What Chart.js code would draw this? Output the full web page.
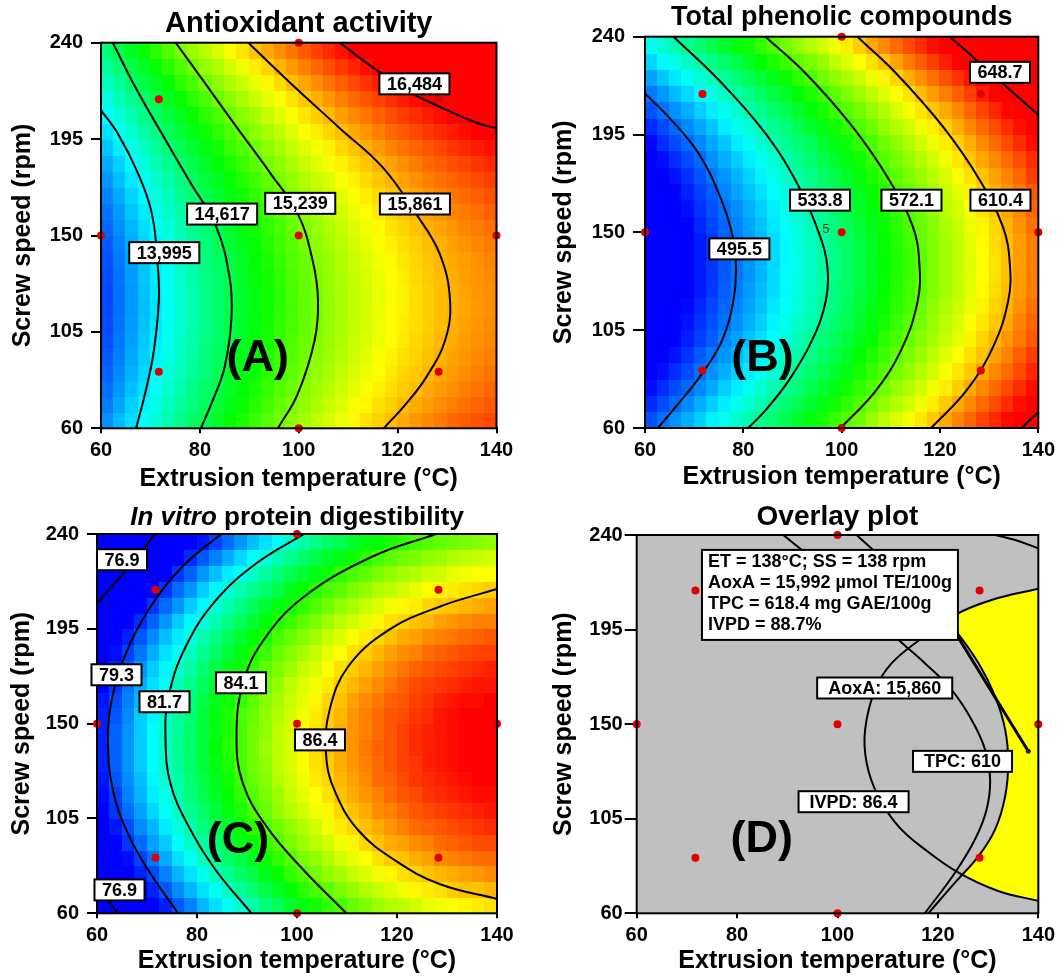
<!DOCTYPE html>
<html>
<head>
<meta charset="utf-8">
<script src="https://cdn.jsdelivr.net/npm/chart.js@4.4.1/dist/chart.umd.min.js"></script>
<style>
  html, body { margin: 0; padding: 0; background: #fff; }
  #page { position: relative; width: 1060px; height: 977px; overflow: hidden; }
  .panel { position: absolute; }
  canvas { display: block; }
</style>
</head>
<body>
<div id="page">
  <div class="panel" style="left:0;top:0"><canvas id="chartA" width="530" height="495"></canvas></div>
  <div class="panel" style="left:530px;top:0"><canvas id="chartB" width="530" height="495"></canvas></div>
  <div class="panel" style="left:0;top:490px"><canvas id="chartC" width="530" height="487"></canvas></div>
  <div class="panel" style="left:530px;top:490px"><canvas id="chartD" width="530" height="487"></canvas></div>
</div>
<script>
// axes
const TEMP_TICKS = [60, 80, 100, 120, 140];
const SPEED_TICKS = [60, 105, 150, 195, 240];

// rotatable CCD design points (red dots)
const DESIGN_TEMP = [60, 71.7, 71.7, 100, 100, 100, 128.3, 128.3, 140];
const DESIGN_SPEED = [150, 86.4, 213.6, 60, 150, 240, 86.4, 213.6, 150];

// response surface cells (centres); rows go from 63.75 rpm up to 236.25 rpm
const CELL_TEMP = [61.25, 63.75, 66.25, 68.75, 71.25, 73.75, 76.25, 78.75, 81.25, 83.75, 86.25, 88.75, 91.25, 93.75, 96.25, 98.75,
  101.25, 103.75, 106.25, 108.75, 111.25, 113.75, 116.25, 118.75, 121.25, 123.75, 126.25, 128.75, 131.25, 133.75, 136.25, 138.75];
const CELL_SPEED = [63.75, 71.25, 78.75, 86.25, 93.75, 101.25, 108.75, 116.25, 123.75, 131.25, 138.75, 146.25,
  153.75, 161.25, 168.75, 176.25, 183.75, 191.25, 198.75, 206.25, 213.75, 221.25, 228.75, 236.25];

// Antioxidant activity (umol TE/100g)
const AOXA_GRID = [
  [13680, 13810, 13930, 14060, 14180, 14300, 14410, 14520, 14630, 14730, 14840, 14930, 15030, 15120, 15210, 15300, 15380, 15460, 15540, 15610, 15680, 15750, 15810, 15880, 15930, 15990, 16040, 16090, 16140, 16180, 16220, 16250],
  [13620, 13750, 13880, 14000, 14120, 14240, 14350, 14460, 14570, 14680, 14780, 14880, 14970, 15070, 15160, 15240, 15320, 15400, 15480, 15560, 15630, 15690, 15760, 15820, 15880, 15930, 15980, 16030, 16080, 16120, 16160, 16200],
  [13570, 13700, 13830, 13950, 14070, 14190, 14300, 14420, 14520, 14630, 14730, 14830, 14920, 15020, 15110, 15190, 15280, 15360, 15430, 15510, 15580, 15640, 15710, 15770, 15830, 15880, 15940, 15980, 16030, 16070, 16110, 16150],
  [13530, 13660, 13790, 13910, 14030, 14150, 14260, 14370, 14480, 14590, 14690, 14790, 14880, 14980, 15070, 15150, 15240, 15320, 15390, 15470, 15540, 15600, 15670, 15730, 15790, 15840, 15890, 15940, 15990, 16030, 16070, 16110],
  [13500, 13630, 13760, 13880, 14000, 14120, 14230, 14340, 14450, 14560, 14660, 14760, 14850, 14940, 15030, 15120, 15200, 15280, 15360, 15430, 15500, 15570, 15640, 15700, 15760, 15810, 15860, 15910, 15960, 16000, 16040, 16080],
  [13470, 13600, 13730, 13860, 13980, 14090, 14210, 14320, 14430, 14530, 14630, 14730, 14830, 14920, 15010, 15100, 15180, 15260, 15340, 15410, 15480, 15550, 15610, 15670, 15730, 15790, 15840, 15890, 15930, 15980, 16020, 16050],
  [13460, 13590, 13720, 13840, 13960, 14080, 14190, 14300, 14410, 14520, 14620, 14720, 14810, 14910, 15000, 15080, 15160, 15240, 15320, 15400, 15470, 15530, 15600, 15660, 15720, 15770, 15820, 15870, 15920, 15960, 16000, 16040],
  [13450, 13580, 13710, 13830, 13950, 14070, 14190, 14300, 14410, 14510, 14610, 14710, 14810, 14900, 14990, 15070, 15160, 15240, 15310, 15390, 15460, 15530, 15590, 15650, 15710, 15770, 15820, 15870, 15910, 15950, 15990, 16030],
  [13450, 13580, 13710, 13840, 13960, 14070, 14190, 14300, 14410, 14510, 14610, 14710, 14810, 14900, 14990, 15080, 15160, 15240, 15320, 15390, 15460, 15530, 15590, 15650, 15710, 15770, 15820, 15870, 15910, 15960, 16000, 16030],
  [13460, 13590, 13720, 13850, 13970, 14080, 14200, 14310, 14420, 14520, 14620, 14720, 14820, 14910, 15000, 15090, 15170, 15250, 15330, 15400, 15470, 15540, 15600, 15660, 15720, 15780, 15830, 15880, 15920, 15970, 16010, 16040],
  [13480, 13610, 13740, 13860, 13980, 14100, 14220, 14330, 14440, 14540, 14640, 14740, 14840, 14930, 15020, 15110, 15190, 15270, 15350, 15420, 15490, 15560, 15620, 15680, 15740, 15800, 15850, 15900, 15940, 15980, 16020, 16060],
  [13510, 13640, 13770, 13890, 14010, 14130, 14240, 14350, 14460, 14570, 14670, 14770, 14860, 14960, 15050, 15130, 15220, 15300, 15370, 15450, 15520, 15580, 15650, 15710, 15770, 15820, 15870, 15920, 15970, 16010, 16050, 16090],
  [13550, 13680, 13800, 13930, 14050, 14160, 14280, 14390, 14500, 14600, 14710, 14800, 14900, 14990, 15080, 15170, 15250, 15330, 15410, 15480, 15550, 15620, 15680, 15750, 15800, 15860, 15910, 15960, 16000, 16050, 16090, 16120],
  [13590, 13720, 13850, 13970, 14090, 14210, 14320, 14430, 14540, 14650, 14750, 14850, 14940, 15040, 15130, 15210, 15290, 15370, 15450, 15530, 15600, 15660, 15730, 15790, 15850, 15900, 15950, 16000, 16050, 16090, 16130, 16170],
  [13640, 13770, 13900, 14020, 14140, 14260, 14380, 14490, 14590, 14700, 14800, 14900, 15000, 15090, 15180, 15260, 15350, 15430, 15500, 15580, 15650, 15720, 15780, 15840, 15900, 15950, 16010, 16060, 16100, 16140, 16180, 16220],
  [13700, 13830, 13960, 14080, 14200, 14320, 14440, 14550, 14660, 14760, 14860, 14960, 15060, 15150, 15240, 15320, 15410, 15490, 15560, 15640, 15710, 15780, 15840, 15900, 15960, 16020, 16070, 16120, 16160, 16200, 16240, 16280],
  [13770, 13900, 14030, 14150, 14270, 14390, 14510, 14620, 14720, 14830, 14930, 15030, 15130, 15220, 15310, 15390, 15480, 15560, 15630, 15710, 15780, 15850, 15910, 15970, 16030, 16080, 16140, 16190, 16230, 16270, 16310, 16350],
  [13850, 13980, 14110, 14230, 14350, 14470, 14580, 14690, 14800, 14910, 15010, 15110, 15200, 15300, 15390, 15470, 15550, 15630, 15710, 15790, 15860, 15920, 15990, 16050, 16110, 16160, 16210, 16260, 16310, 16350, 16390, 16430],
  [13940, 14070, 14190, 14320, 14440, 14550, 14670, 14780, 14890, 14990, 15100, 15190, 15290, 15380, 15470, 15560, 15640, 15720, 15800, 15870, 15940, 16010, 16070, 16140, 16190, 16250, 16300, 16350, 16390, 16440, 16480, 16510],
  [14030, 14160, 14290, 14410, 14530, 14650, 14760, 14870, 14980, 15090, 15190, 15290, 15380, 15480, 15570, 15650, 15740, 15820, 15890, 15970, 16040, 16100, 16170, 16230, 16290, 16340, 16390, 16440, 16490, 16530, 16570, 16610],
  [14130, 14260, 14390, 14510, 14630, 14750, 14870, 14980, 15090, 15190, 15290, 15390, 15490, 15580, 15670, 15750, 15840, 15920, 15990, 16070, 16140, 16210, 16270, 16330, 16390, 16450, 16500, 16550, 16590, 16630, 16670, 16710],
  [14240, 14370, 14500, 14630, 14750, 14860, 14980, 15090, 15200, 15300, 15400, 15500, 15600, 15690, 15780, 15870, 15950, 16030, 16110, 16180, 16250, 16320, 16380, 16440, 16500, 16560, 16610, 16660, 16700, 16750, 16790, 16820],
  [14360, 14490, 14620, 14740, 14870, 14980, 15100, 15210, 15320, 15420, 15520, 15620, 15720, 15810, 15900, 15990, 16070, 16150, 16230, 16300, 16370, 16440, 16500, 16560, 16620, 16680, 16730, 16780, 16820, 16870, 16900, 16940],
  [14490, 14620, 14750, 14870, 14990, 15110, 15230, 15340, 15440, 15550, 15650, 15750, 15850, 15940, 16030, 16110, 16200, 16280, 16350, 16430, 16500, 16570, 16630, 16690, 16750, 16800, 16860, 16910, 16950, 16990, 17030, 17070]
];
// Total phenolic compounds (mg GAE/100g)
const TPC_GRID = [
  [490, 495, 500, 505, 510, 516, 521, 526, 531, 536, 541, 546, 552, 557, 562, 567, 572, 577, 583, 588, 593, 598, 603, 608, 613, 619, 624, 629, 634, 639, 644, 649],
  [484, 489, 494, 499, 505, 510, 515, 520, 525, 530, 535, 541, 546, 551, 556, 561, 566, 571, 577, 582, 587, 592, 597, 602, 608, 613, 618, 623, 628, 633, 638, 644],
  [479, 484, 489, 494, 499, 504, 510, 515, 520, 525, 530, 535, 540, 546, 551, 556, 561, 566, 571, 576, 582, 587, 592, 597, 602, 607, 613, 618, 623, 628, 633, 638],
  [474, 479, 484, 489, 495, 500, 505, 510, 515, 520, 525, 531, 536, 541, 546, 551, 556, 562, 567, 572, 577, 582, 587, 592, 598, 603, 608, 613, 618, 623, 628, 634],
  [470, 475, 480, 485, 491, 496, 501, 506, 511, 516, 522, 527, 532, 537, 542, 547, 552, 558, 563, 568, 573, 578, 583, 588, 594, 599, 604, 609, 614, 619, 625, 630],
  [467, 472, 477, 482, 487, 492, 498, 503, 508, 513, 518, 523, 529, 534, 539, 544, 549, 554, 559, 565, 570, 575, 580, 585, 590, 595, 601, 606, 611, 616, 621, 626],
  [464, 469, 474, 480, 485, 490, 495, 500, 505, 510, 516, 521, 526, 531, 536, 541, 546, 552, 557, 562, 567, 572, 577, 583, 588, 593, 598, 603, 608, 613, 619, 624],
  [462, 467, 472, 478, 483, 488, 493, 498, 503, 508, 514, 519, 524, 529, 534, 539, 544, 550, 555, 560, 565, 570, 575, 581, 586, 591, 596, 601, 606, 611, 617, 622],
  [461, 466, 471, 476, 481, 486, 492, 497, 502, 507, 512, 517, 523, 528, 533, 538, 543, 548, 553, 559, 564, 569, 574, 579, 584, 589, 595, 600, 605, 610, 615, 620],
  [460, 465, 470, 476, 481, 486, 491, 496, 501, 506, 512, 517, 522, 527, 532, 537, 542, 548, 553, 558, 563, 568, 573, 579, 584, 589, 594, 599, 604, 609, 615, 620],
  [460, 465, 470, 476, 481, 486, 491, 496, 501, 506, 512, 517, 522, 527, 532, 537, 542, 548, 553, 558, 563, 568, 573, 579, 584, 589, 594, 599, 604, 609, 615, 620],
  [461, 466, 471, 476, 481, 486, 492, 497, 502, 507, 512, 517, 523, 528, 533, 538, 543, 548, 553, 559, 564, 569, 574, 579, 584, 589, 595, 600, 605, 610, 615, 620],
  [462, 467, 472, 477, 483, 488, 493, 498, 503, 508, 514, 519, 524, 529, 534, 539, 544, 550, 555, 560, 565, 570, 575, 580, 586, 591, 596, 601, 606, 611, 617, 622],
  [464, 469, 474, 479, 485, 490, 495, 500, 505, 510, 515, 521, 526, 531, 536, 541, 546, 552, 557, 562, 567, 572, 577, 582, 588, 593, 598, 603, 608, 613, 618, 624],
  [467, 472, 477, 482, 487, 492, 498, 503, 508, 513, 518, 523, 528, 534, 539, 544, 549, 554, 559, 564, 570, 575, 580, 585, 590, 595, 601, 606, 611, 616, 621, 626],
  [470, 475, 480, 485, 490, 496, 501, 506, 511, 516, 521, 527, 532, 537, 542, 547, 552, 557, 563, 568, 573, 578, 583, 588, 593, 599, 604, 609, 614, 619, 624, 630],
  [474, 479, 484, 489, 494, 500, 505, 510, 515, 520, 525, 530, 536, 541, 546, 551, 556, 561, 567, 572, 577, 582, 587, 592, 597, 603, 608, 613, 618, 623, 628, 633],
  [478, 484, 489, 494, 499, 504, 509, 515, 520, 525, 530, 535, 540, 545, 551, 556, 561, 566, 571, 576, 581, 587, 592, 597, 602, 607, 612, 618, 623, 628, 633, 638],
  [484, 489, 494, 499, 504, 509, 515, 520, 525, 530, 535, 540, 546, 551, 556, 561, 566, 571, 576, 582, 587, 592, 597, 602, 607, 612, 618, 623, 628, 633, 638, 643],
  [490, 495, 500, 505, 510, 515, 521, 526, 531, 536, 541, 546, 551, 557, 562, 567, 572, 577, 582, 587, 593, 598, 603, 608, 613, 618, 624, 629, 634, 639, 644, 649],
  [496, 501, 507, 512, 517, 522, 527, 532, 537, 543, 548, 553, 558, 563, 568, 573, 579, 584, 589, 594, 599, 604, 610, 615, 620, 625, 630, 635, 640, 646, 651, 656],
  [503, 509, 514, 519, 524, 529, 534, 540, 545, 550, 555, 560, 565, 570, 576, 581, 586, 591, 596, 601, 606, 612, 617, 622, 627, 632, 637, 643, 648, 653, 658, 663],
  [511, 517, 522, 527, 532, 537, 542, 547, 553, 558, 563, 568, 573, 578, 583, 589, 594, 599, 604, 609, 614, 620, 625, 630, 635, 640, 645, 650, 656, 661, 666, 671],
  [520, 525, 530, 535, 541, 546, 551, 556, 561, 566, 571, 577, 582, 587, 592, 597, 602, 607, 613, 618, 623, 628, 633, 638, 644, 649, 654, 659, 664, 669, 674, 680]
];
// In vitro protein digestibility (%)
const IVPD_GRID = [
  [76.6, 77.1, 77.6, 78.1, 78.6, 79.1, 79.6, 80.0, 80.5, 80.9, 81.3, 81.6, 82.0, 82.4, 82.7, 83.1, 83.4, 83.7, 84.0, 84.2, 84.5, 84.7, 85.0, 85.2, 85.3, 85.5, 85.7, 85.8, 85.9, 86.0, 86.1, 86.2],
  [77.0, 77.6, 78.1, 78.6, 79.1, 79.6, 80.1, 80.5, 80.9, 81.3, 81.7, 82.1, 82.5, 82.9, 83.2, 83.5, 83.9, 84.2, 84.4, 84.7, 84.9, 85.2, 85.4, 85.6, 85.8, 86.0, 86.1, 86.2, 86.4, 86.5, 86.5, 86.6],
  [77.5, 78.0, 78.5, 79.1, 79.5, 80.0, 80.5, 80.9, 81.4, 81.8, 82.2, 82.6, 82.9, 83.3, 83.6, 84.0, 84.3, 84.6, 84.9, 85.1, 85.4, 85.6, 85.8, 86.0, 86.2, 86.3, 86.5, 86.6, 86.7, 86.8, 86.9, 87.0],
  [77.9, 78.4, 78.9, 79.4, 79.9, 80.4, 80.9, 81.3, 81.8, 82.2, 82.6, 82.9, 83.3, 83.7, 84.0, 84.3, 84.7, 84.9, 85.2, 85.5, 85.7, 85.9, 86.2, 86.4, 86.5, 86.7, 86.8, 87.0, 87.1, 87.2, 87.3, 87.3],
  [78.2, 78.7, 79.3, 79.8, 80.3, 80.7, 81.2, 81.7, 82.1, 82.5, 82.9, 83.3, 83.6, 84.0, 84.3, 84.7, 85.0, 85.3, 85.5, 85.8, 86.0, 86.3, 86.5, 86.7, 86.8, 87.0, 87.1, 87.3, 87.4, 87.5, 87.6, 87.6],
  [78.5, 79.0, 79.5, 80.1, 80.5, 81.0, 81.5, 81.9, 82.4, 82.8, 83.2, 83.6, 83.9, 84.3, 84.6, 84.9, 85.2, 85.5, 85.8, 86.1, 86.3, 86.5, 86.7, 86.9, 87.1, 87.3, 87.4, 87.5, 87.6, 87.7, 87.8, 87.9],
  [78.7, 79.3, 79.8, 80.3, 80.8, 81.3, 81.7, 82.2, 82.6, 83.0, 83.4, 83.8, 84.2, 84.5, 84.9, 85.2, 85.5, 85.8, 86.0, 86.3, 86.5, 86.7, 87.0, 87.1, 87.3, 87.5, 87.6, 87.7, 87.8, 87.9, 88.0, 88.1],
  [78.9, 79.4, 80.0, 80.5, 81.0, 81.4, 81.9, 82.4, 82.8, 83.2, 83.6, 84.0, 84.3, 84.7, 85.0, 85.4, 85.7, 85.9, 86.2, 86.5, 86.7, 86.9, 87.1, 87.3, 87.5, 87.6, 87.8, 87.9, 88.0, 88.1, 88.2, 88.2],
  [79.0, 79.6, 80.1, 80.6, 81.1, 81.6, 82.0, 82.5, 82.9, 83.3, 83.7, 84.1, 84.5, 84.8, 85.2, 85.5, 85.8, 86.1, 86.3, 86.6, 86.8, 87.0, 87.3, 87.4, 87.6, 87.8, 87.9, 88.0, 88.1, 88.2, 88.3, 88.3],
  [79.1, 79.7, 80.2, 80.7, 81.2, 81.7, 82.1, 82.6, 83.0, 83.4, 83.8, 84.2, 84.6, 84.9, 85.3, 85.6, 85.9, 86.2, 86.4, 86.7, 86.9, 87.1, 87.3, 87.5, 87.7, 87.8, 88.0, 88.1, 88.2, 88.3, 88.4, 88.4],
  [79.1, 79.7, 80.2, 80.7, 81.2, 81.7, 82.2, 82.6, 83.0, 83.5, 83.9, 84.2, 84.6, 85.0, 85.3, 85.6, 85.9, 86.2, 86.5, 86.7, 86.9, 87.2, 87.4, 87.5, 87.7, 87.9, 88.0, 88.1, 88.2, 88.3, 88.4, 88.5],
  [79.1, 79.7, 80.2, 80.7, 81.2, 81.7, 82.1, 82.6, 83.0, 83.4, 83.8, 84.2, 84.6, 84.9, 85.3, 85.6, 85.9, 86.2, 86.4, 86.7, 86.9, 87.1, 87.3, 87.5, 87.7, 87.9, 88.0, 88.1, 88.2, 88.3, 88.4, 88.4],
  [79.1, 79.6, 80.1, 80.7, 81.1, 81.6, 82.1, 82.5, 83.0, 83.4, 83.8, 84.2, 84.5, 84.9, 85.2, 85.5, 85.8, 86.1, 86.4, 86.6, 86.9, 87.1, 87.3, 87.5, 87.6, 87.8, 87.9, 88.1, 88.2, 88.3, 88.3, 88.4],
  [79.0, 79.5, 80.0, 80.5, 81.0, 81.5, 82.0, 82.4, 82.9, 83.3, 83.7, 84.0, 84.4, 84.8, 85.1, 85.4, 85.7, 86.0, 86.3, 86.5, 86.8, 87.0, 87.2, 87.4, 87.5, 87.7, 87.8, 88.0, 88.1, 88.2, 88.2, 88.3],
  [78.8, 79.3, 79.9, 80.4, 80.9, 81.3, 81.8, 82.3, 82.7, 83.1, 83.5, 83.9, 84.3, 84.6, 84.9, 85.3, 85.6, 85.8, 86.1, 86.4, 86.6, 86.8, 87.0, 87.2, 87.4, 87.6, 87.7, 87.8, 87.9, 88.0, 88.1, 88.1],
  [78.6, 79.1, 79.6, 80.2, 80.7, 81.1, 81.6, 82.0, 82.5, 82.9, 83.3, 83.7, 84.0, 84.4, 84.7, 85.0, 85.4, 85.6, 85.9, 86.2, 86.4, 86.6, 86.8, 87.0, 87.2, 87.4, 87.5, 87.6, 87.7, 87.8, 87.9, 88.0],
  [78.3, 78.9, 79.4, 79.9, 80.4, 80.9, 81.3, 81.8, 82.2, 82.6, 83.0, 83.4, 83.8, 84.1, 84.5, 84.8, 85.1, 85.4, 85.7, 85.9, 86.2, 86.4, 86.6, 86.8, 87.0, 87.1, 87.3, 87.4, 87.5, 87.6, 87.7, 87.7],
  [78.0, 78.6, 79.1, 79.6, 80.1, 80.6, 81.0, 81.5, 81.9, 82.3, 82.7, 83.1, 83.5, 83.8, 84.2, 84.5, 84.8, 85.1, 85.4, 85.6, 85.9, 86.1, 86.3, 86.5, 86.7, 86.8, 87.0, 87.1, 87.2, 87.3, 87.4, 87.5],
  [77.6, 78.2, 78.7, 79.2, 79.7, 80.2, 80.7, 81.1, 81.5, 81.9, 82.3, 82.7, 83.1, 83.5, 83.8, 84.1, 84.4, 84.7, 85.0, 85.3, 85.5, 85.7, 86.0, 86.2, 86.3, 86.5, 86.6, 86.8, 86.9, 87.0, 87.1, 87.1],
  [77.2, 77.8, 78.3, 78.8, 79.3, 79.8, 80.2, 80.7, 81.1, 81.5, 81.9, 82.3, 82.7, 83.1, 83.4, 83.7, 84.0, 84.3, 84.6, 84.9, 85.1, 85.4, 85.6, 85.8, 86.0, 86.1, 86.3, 86.4, 86.5, 86.6, 86.7, 86.8],
  [76.8, 77.3, 77.8, 78.4, 78.8, 79.3, 79.8, 80.2, 80.7, 81.1, 81.5, 81.9, 82.2, 82.6, 82.9, 83.3, 83.6, 83.9, 84.2, 84.4, 84.7, 84.9, 85.2, 85.3, 85.5, 85.7, 85.9, 86.0, 86.1, 86.2, 86.3, 86.4],
  [76.3, 76.8, 77.3, 77.8, 78.3, 78.8, 79.3, 79.7, 80.2, 80.6, 81.0, 81.3, 81.7, 82.1, 82.4, 82.8, 83.1, 83.4, 83.7, 84.0, 84.2, 84.4, 84.7, 84.9, 85.1, 85.2, 85.4, 85.5, 85.7, 85.8, 85.9, 85.9],
  [75.7, 76.2, 76.8, 77.3, 77.8, 78.3, 78.7, 79.2, 79.6, 80.0, 80.4, 80.8, 81.2, 81.5, 81.9, 82.2, 82.6, 82.9, 83.2, 83.4, 83.7, 83.9, 84.2, 84.4, 84.6, 84.7, 84.9, 85.0, 85.2, 85.3, 85.4, 85.5],
  [75.1, 75.6, 76.2, 76.7, 77.2, 77.6, 78.1, 78.6, 79.0, 79.4, 79.8, 80.2, 80.6, 80.9, 81.3, 81.6, 82.0, 82.3, 82.6, 82.8, 83.1, 83.4, 83.6, 83.8, 84.0, 84.2, 84.3, 84.5, 84.6, 84.7, 84.8, 84.9]
];

// contour lines, [temperature, speed]
const AOXA_13995 = [[60, 208.5], [63.4, 197.6], [67.5, 178.9], [70.3, 160.2], [71.5, 135.3], [71.7, 119.7], [70.6, 94.8], [68.9, 76.1], [67.1, 60]];
const AOXA_14617 = [[62.4, 240], [66.9, 219.4], [72.3, 197.6], [77.8, 175.8], [83.3, 154], [86, 130.6], [86.4, 111.9], [85, 88.5], [82.6, 73], [80.2, 60]];
const AOXA_15239 = [[75.1, 240], [80.6, 222.5], [87.4, 200.7], [94.3, 178.9], [99.8, 160.2], [102.8, 138.4], [103.9, 119.7], [103.2, 101], [99.8, 76.1], [95.8, 60]];
const AOXA_15861 = [[89.8, 240], [97.7, 222.5], [108, 200.7], [116.9, 182], [123.7, 160.2], [128.5, 141.5], [130.6, 119.7], [129.6, 101], [125.8, 83.9], [121.7, 71.4], [117.2, 60]];
const AOXA_16484 = [[108.3, 240], [114.8, 228.8], [121.7, 217.9], [128.5, 210.1], [135.4, 203.1], [140, 200]];

const TPC_4955 = [[60, 213.9], [65.4, 201.6], [70.9, 186.3], [75, 167.9], [77.7, 149.5], [78.5, 134.1], [78, 118.8], [75.7, 100.4], [71.6, 85], [66.8, 71.2], [62.6, 60]];
const TPC_5338 = [[65.8, 240], [75, 220.1], [84.5, 195.5], [91.3, 171], [95.4, 149.5], [97.1, 134.1], [96.8, 118.8], [94, 100.4], [89.3, 82], [84.5, 68.1], [81, 60]];
const TPC_5721 = [[84.5, 240], [92.7, 223.1], [102.2, 198.6], [109.7, 174], [114.5, 152.5], [115.8, 135.7], [115.5, 118.8], [112.4, 97.3], [107, 77.3], [99.8, 60]];
const TPC_6104 = [[103.2, 240], [111.1, 223.1], [120.6, 198.6], [128.1, 174], [132.8, 152.5], [134.2, 135.7], [133.9, 118.8], [130.8, 97.3], [125.4, 77.3], [118.2, 60]];
const TPC_6487_TOP = [[122, 240], [127.4, 229.3], [133.5, 217], [140, 204]];
const TPC_6487_BOTTOM = [[136.6, 60], [140, 67.4]];

const IVPD_769_TOP = [[71.6, 240], [67.6, 227.6], [63.5, 216.5], [60, 207]];
const IVPD_769_BOTTOM = [[60, 73.1], [62.2, 66], [64.2, 60]];
const IVPD_793 = [[84.8, 240], [77.1, 224.5], [70.3, 203.9], [65.5, 181.7], [62.8, 159.5], [62.2, 140.5], [63.2, 118.3], [66.2, 97.7], [70.3, 80.3], [76.2, 60]];
const IVPD_817 = [[101.4, 240], [91.9, 226.1], [83.8, 208.6], [77.7, 186.4], [74.3, 162.7], [73.7, 142.9], [74.7, 121.5], [78.4, 100.9], [83.8, 80.3], [90.9, 60]];
const IVPD_841 = [[127.8, 240], [115, 229.2], [101.4, 210.2], [93.3, 189.6], [89.2, 169], [87.9, 143.7], [89.2, 121.5], [94, 100.9], [101.4, 80.3], [109.9, 60]];
const IVPD_864 = [[140, 213.9], [128.5, 205.5], [118.3, 194.4], [110.2, 177], [106.5, 156.3], [105.8, 135.7], [107.5, 118.3], [112.3, 99.3], [119.7, 85], [128.5, 73.9], [140, 66.8]];

// overlay plot
const OVL_IVPD = [[140, 214.4], [130.7, 209.1], [123.4, 202], [116.8, 190.9], [110.8, 179], [107.5, 166.4], [105.5, 147.4], [105.8, 131.6], [108.1, 115.7], [112.1, 101.5], [117.4, 90.4], [124.1, 79.3], [132, 70.6], [140, 65.9]];
const OVL_AOXA = [[89.2, 240], [96.9, 225], [105.5, 207.5], [111.5, 191.7], [117.4, 179], [122.7, 166.4], [126.7, 152.1], [129.4, 137.9], [130.4, 123.6], [129.7, 109.4], [127.4, 95.2], [123.4, 79.3], [117.4, 60]];
const OVL_TPC = [[103.8, 240], [111.5, 223.4], [118.8, 207.5], [123.4, 194.9], [128.1, 179], [131.4, 163.2], [133.4, 147.4], [134, 131.6], [133.4, 115.7], [131.4, 99.9], [128.1, 87.2], [123.4, 74.6], [118.1, 60]];
const OVL_CORNER = [[131.4, 240], [135.4, 237.6], [140, 233.7]];
const OVL_FLAG = [[123.1, 194.9], [138, 137.1]];
const OVL_SWEET_SPOT = [[140, 214.4], [130.7, 209.1], [123.4, 202], [121.8, 199.4], [123.4, 194.9], [128.1, 179], [131.4, 163.2], [133.4, 147.4], [134, 131.6], [133.4, 115.7], [131.4, 99.9], [128.1, 87.2], [124.8, 78.5], [132, 70.6], [140, 65.9], [140, 214.4]];

const OPTIMUM_TEXT = ['ET = 138°C; SS = 138 rpm', 'AoxA = 15,992 µmol TE/100g', 'TPC = 618.4 mg GAE/100g', 'IVPD = 88.7%'];

const FONT = "'Liberation Sans', Arial, sans-serif";
const HEAT_STOPS = [[0, 0, 255], [0, 255, 255], [0, 255, 0], [255, 255, 0], [255, 0, 0]];

function heatColour(v, lo, hi) {
  let f = Math.max(0, Math.min(1, (v - lo) / (hi - lo))) * (HEAT_STOPS.length - 1);
  const i = Math.min(Math.floor(f), HEAT_STOPS.length - 2);
  const u = f - i, a = HEAT_STOPS[i], b = HEAT_STOPS[i + 1];
  return 'rgb(' + a.map((c, k) => Math.round(c + (b[k] - c) * u)).join(',') + ')';
}

function toPoints(pairs) {
  return pairs.map(([x, y]) => ({ x, y }));
}

function contourSet(pairs, width) {
  return {
    data: toPoints(pairs), showLine: true, borderColor: '#000', borderWidth: width || 2,
    pointRadius: 0, tension: 0.4, fill: false, order: 2
  };
}

// background: heat cells or flat grey
function backgroundPlugin(spec) {
  return {
    id: 'panelBackground',
    beforeDatasetsDraw(chart) {
      const { ctx, chartArea: a, scales: { x, y } } = chart;
      ctx.save();
      ctx.beginPath();
      ctx.rect(a.left, a.top, a.width, a.height);
      ctx.clip();
      if (!spec.grid) {
        ctx.fillStyle = '#c0c0c0';
        ctx.fillRect(a.left, a.top, a.width, a.height);
      } else {
        const hw = (CELL_TEMP[1] - CELL_TEMP[0]) / 2;
        const hh = (CELL_SPEED[1] - CELL_SPEED[0]) / 2;
        spec.grid.forEach((row, r) => row.forEach((v, c) => {
          const x0 = Math.floor(x.getPixelForValue(CELL_TEMP[c] - hw));
          const x1 = Math.ceil(x.getPixelForValue(CELL_TEMP[c] + hw));
          const y0 = Math.floor(y.getPixelForValue(CELL_SPEED[r] + hh));
          const y1 = Math.ceil(y.getPixelForValue(CELL_SPEED[r] - hh));
          ctx.fillStyle = heatColour(v, spec.range[0], spec.range[1]);
          ctx.fillRect(x0, y0, x1 - x0, y1 - y0);
        }));
      }
      ctx.restore();
    }
  };
}

function labelBox(ctx, text, cx, cy, size, pad) {
  ctx.font = 'bold ' + size + 'px ' + FONT;
  const w = ctx.measureText(text).width + pad, h = 21;
  ctx.fillStyle = '#fff';
  ctx.fillRect(cx - w / 2, cy - h / 2, w, h);
  ctx.strokeStyle = '#000';
  ctx.lineWidth = 2;
  ctx.strokeRect(cx - w / 2, cy - h / 2, w, h);
  ctx.fillStyle = '#000';
  ctx.textAlign = 'center';
  ctx.textBaseline = 'middle';
  ctx.fillText(text, cx, cy + 1);
}

// frame, contour labels, panel letter, title
function decorPlugin(spec) {
  return {
    id: 'panelDecor',
    afterDatasetsDraw(chart) {
      const { ctx, chartArea: a, scales: { x, y } } = chart;
      ctx.save();
      ctx.strokeStyle = '#000';
      ctx.lineWidth = 2;
      ctx.strokeRect(a.left, a.top, a.width, a.height);

      (spec.labels || []).forEach(([text, t, s]) => labelBox(ctx, text, x.getPixelForValue(t), y.getPixelForValue(s), 18, spec.labelPad || 15));

      (spec.notes || []).forEach(([text, t, s]) => {
        ctx.font = '13px ' + FONT;
        ctx.fillStyle = '#333';
        ctx.textAlign = 'center';
        ctx.textBaseline = 'middle';
        ctx.fillText(text, x.getPixelForValue(t), y.getPixelForValue(s));
      });

      if (spec.infoBox) {
        const [t, s] = spec.infoBox;
        const bx = x.getPixelForValue(t), by = y.getPixelForValue(s);
        ctx.font = 'bold 18px ' + FONT;
        const w = Math.max(...OPTIMUM_TEXT.map(l => ctx.measureText(l).width)) + 12;
        ctx.fillStyle = '#fff';
        ctx.fillRect(bx, by, w, 90);
        ctx.lineWidth = 2;
        ctx.strokeRect(bx, by, w, 90);
        ctx.fillStyle = '#000';
        ctx.textAlign = 'left';
        ctx.textBaseline = 'middle';
        OPTIMUM_TEXT.forEach((l, i) => ctx.fillText(l, bx + 6, by + 12.5 + i * 21));
      }

      ctx.font = 'bold 45px ' + FONT;
      ctx.fillStyle = '#000';
      ctx.textAlign = 'center';
      ctx.textBaseline = 'middle';
      ctx.fillText(spec.letter[0], x.getPixelForValue(spec.letter[1]), y.getPixelForValue(spec.letter[2]));

      // title (may mix italic and upright parts)
      const parts = spec.title.map(([txt, italic]) => ({ txt, font: (italic ? 'italic ' : '') + 'bold ' + spec.titleSize + 'px ' + FONT }));
      const widths = parts.map(p => { ctx.font = p.font; return ctx.measureText(p.txt).width; });
      let tx = (a.left + a.right) / 2 - widths.reduce((m, v) => m + v, 0) / 2;
      ctx.textAlign = 'left';
      parts.forEach((p, i) => {
        ctx.font = p.font;
        ctx.fillText(p.txt, tx, a.top - spec.titleGap);
        tx += widths[i];
      });
      ctx.restore();
    }
  };
}

function buildPanel(id, spec) {
  const tickFont = { family: FONT, size: 20, weight: 'bold' };
  const titleFont = { family: FONT, size: 25, weight: 'bold', lineHeight: 1 };
  const datasets = [{
    data: DESIGN_TEMP.map((t, i) => ({ x: t, y: DESIGN_SPEED[i] })),
    pointRadius: 4, pointBackgroundColor: '#e00000', pointBorderWidth: 0,
    showLine: false, clip: false, order: 0
  }];
  spec.contours.forEach(c => datasets.push(contourSet(c)));
  if (spec.leader) {
    const ds = contourSet(spec.leader, 3);
    ds.pointRadius = [0, 2.5];
    ds.pointBackgroundColor = '#222';
    ds.pointBorderWidth = 0;
    datasets.push(ds);
  }
  if (spec.region) {
    datasets.push({
      data: toPoints(spec.region), showLine: true, fill: 'shape', backgroundColor: '#ffff00',
      borderWidth: 0, borderColor: 'rgba(0,0,0,0)', pointRadius: 0, tension: 0, order: 5
    });
  }
  new Chart(document.getElementById(id), {
    type: 'scatter',
    data: { datasets },
    options: {
      responsive: false,
      animation: false,
      events: [],
      layout: { padding: { left: 0, top: spec.top, right: spec.right, bottom: 0 } },
      plugins: { legend: { display: false }, tooltip: { enabled: false }, title: { display: false } },
      scales: {
        x: {
          type: 'linear', min: TEMP_TICKS[0], max: TEMP_TICKS[TEMP_TICKS.length - 1],
          afterBuildTicks: s => { s.ticks = TEMP_TICKS.map(v => ({ value: v })); },
          afterFit: s => { s.height = spec.xHeight; },
          grid: { drawOnChartArea: false, drawTicks: true, tickLength: 5, color: '#000', lineWidth: 2 },
          border: { display: true, color: '#000', width: 2 },
          ticks: { color: '#000', font: tickFont, padding: 5, maxRotation: 0 },
          title: { display: true, text: 'Extrusion temperature (°C)', color: '#000', font: titleFont, padding: { top: 0, bottom: spec.xTitlePad } }
        },
        y: {
          type: 'linear', min: SPEED_TICKS[0], max: SPEED_TICKS[SPEED_TICKS.length - 1],
          afterBuildTicks: s => { s.ticks = SPEED_TICKS.map(v => ({ value: v })); },
          afterFit: s => { s.width = spec.yWidth; },
          grid: { drawOnChartArea: false, drawTicks: true, tickLength: spec.yTick, color: '#000', lineWidth: 2 },
          border: { display: true, color: '#000', width: 2 },
          ticks: { color: '#000', font: tickFont, padding: spec.yTickPad },
          title: { display: true, text: 'Screw speed (rpm)', color: '#000', font: titleFont, padding: { top: spec.yTitlePad, bottom: 0 } }
        }
      }
    },
    plugins: [backgroundPlugin(spec), decorPlugin(spec)]
  });
}

buildPanel('chartA', {
  top: 42.7, right: 33.5, yWidth: 101, xHeight: 66.7, xTitlePad: 3.5, yTitlePad: 11, yTick: 10, yTickPad: 8, titleGap: 19, titleSize: 29,
  title: [['Antioxidant activity', false]],
  grid: AOXA_GRID, range: [13220, 16480],
  contours: [AOXA_13995, AOXA_14617, AOXA_15239, AOXA_15861, AOXA_16484],
  labels: [['16,484', 123.4, 220.8], ['15,861', 123.5, 164.7], ['15,239', 100.3, 165], ['14,617', 84.5, 160], ['13,995', 72.8, 142]],
  letter: ['(A)', 91.7, 92.7]
});

buildPanel('chartB', {
  top: 36.7, right: 17, yWidth: 115, xHeight: 67, xTitlePad: 5.5, yTitlePad: 22, yTick: 12, yTickPad: 8, titleGap: 18.7, titleSize: 27,
  title: [['Total phenolic compounds', false]],
  grid: TPC_GRID, range: [477, 640],
  contours: [TPC_4955, TPC_5338, TPC_5721, TPC_6104, TPC_6487_TOP, TPC_6487_BOTTOM],
  labels: [['648.7', 132.2, 223.6], ['610.4', 132.3, 164.8], ['572.1', 114.2, 164.8], ['533.8', 95.6, 164.8], ['495.5', 79.2, 142.4]],
  notes: [['5', 96.8, 151.3]],
  letter: ['(B)', 83.9, 92.1]
});

buildPanel('chartC', {
  top: 44, right: 33, yWidth: 97, xHeight: 63.7, xTitlePad: 3.8, yTitlePad: 10, yTick: 10, yTickPad: 8, titleGap: 16, titleSize: 26,
  title: [['In vitro', true], [' protein digestibility', false]],
  grid: IVPD_GRID, range: [78.8, 88.3],
  contours: [IVPD_769_TOP, IVPD_769_BOTTOM, IVPD_793, IVPD_817, IVPD_841, IVPD_864],
  labels: [['76.9', 65.0, 227.8], ['79.3', 63.9, 173.2], ['81.7', 73.5, 160.4], ['84.1', 88.8, 169.4], ['86.4', 104.6, 142.3], ['76.9', 64.5, 71.1]],
  letter: ['(C)', 88.2, 94.7]
});

buildPanel('chartD', {
  top: 45, right: 16.7, yWidth: 106.7, xHeight: 63.7, xTitlePad: 3.8, yTitlePad: 21.5, yTick: 12, yTickPad: 2, titleGap: 17.7, titleSize: 28,
  title: [['Overlay plot', false]],
  grid: null,
  region: OVL_SWEET_SPOT,
  contours: [OVL_IVPD, OVL_AOXA, OVL_TPC, OVL_CORNER],
  leader: OVL_FLAG,
  labels: [['AoxA: 15,860', 109.4, 167.2], ['TPC: 610', 124.9, 132.3], ['IVPD: 86.4', 103.2, 113.1]],
  labelPad: 22,
  infoBox: [73.0, 232.9],
  letter: ['(D)', 84.9, 95.1]
});
</script>
</body>
</html>
